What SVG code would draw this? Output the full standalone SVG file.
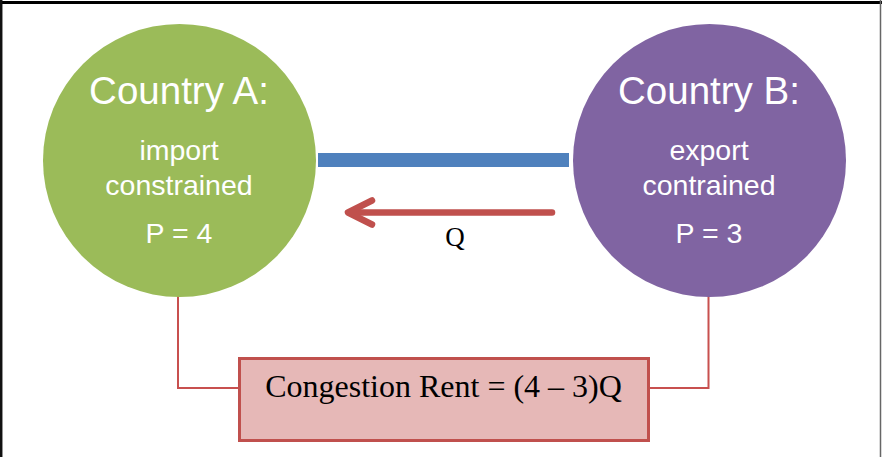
<svg xmlns="http://www.w3.org/2000/svg" width="882" height="457" viewBox="0 0 882 457">
<style>
.big{font-family:"Liberation Sans",Arial,sans-serif;font-size:38.5px;fill:#ffffff;text-anchor:middle}
.sm{font-family:"Liberation Sans",Arial,sans-serif;font-size:28.5px;fill:#ffffff;text-anchor:middle}
.ser{font-family:"Liberation Serif","Times New Roman",serif;fill:#000000;text-anchor:middle}
.conn{fill:none;stroke:#c8504f;stroke-width:2}
</style>
<rect x="0" y="0" width="882" height="457" fill="#ffffff"/>
<line x1="0" y1="2.5" x2="882" y2="2.5" stroke="#000" stroke-width="3"/>
<line x1="1.2" y1="0" x2="1.2" y2="457" stroke="#111" stroke-width="2.5"/>
<line x1="880.5" y1="0" x2="880.5" y2="457" stroke="#666" stroke-width="1.5"/>
<g id="connectors">
<rect id="line" x="318" y="153" width="251" height="14" fill="#4f81bd"/>
<g id="arrow" fill="none" stroke="#c0504d" stroke-width="6.5" stroke-linecap="round" stroke-linejoin="round">
<line x1="552" y1="212.5" x2="350" y2="212.5"/>
<polyline points="372,200.5 348,212.5 372,224.5"/>
</g>
<text class="ser" x="455" y="246" font-size="27">Q</text>
<polyline class="conn" points="178,290 178,388 239,388"/>
<polyline class="conn" points="708.5,290 708.5,388 648,388"/>
</g>
<g id="countryA">
<circle cx="179.5" cy="160.5" r="136.5" fill="#9bbb59"/>
<text class="big" x="179" y="104">Country A:</text>
<text class="sm" x="179" y="160">import</text>
<text class="sm" x="179" y="195">constrained</text>
<text class="sm" x="179" y="243">P = 4</text>
</g>
<g id="countryB">
<circle cx="709.5" cy="160.5" r="136.5" fill="#8064a2"/>
<text class="big" x="709" y="104">Country B:</text>
<text class="sm" x="709" y="160">export</text>
<text class="sm" x="709" y="195">contrained</text>
<text class="sm" x="709" y="243">P = 3</text>
</g>
<g id="rent">
<rect x="239.5" y="358.5" width="409" height="82" fill="#e6b8b7" stroke="#c0504d" stroke-width="3"/>
<text class="ser" x="443.5" y="397" font-size="32">Congestion Rent = (4 – 3)Q</text>
</g>
</svg>
